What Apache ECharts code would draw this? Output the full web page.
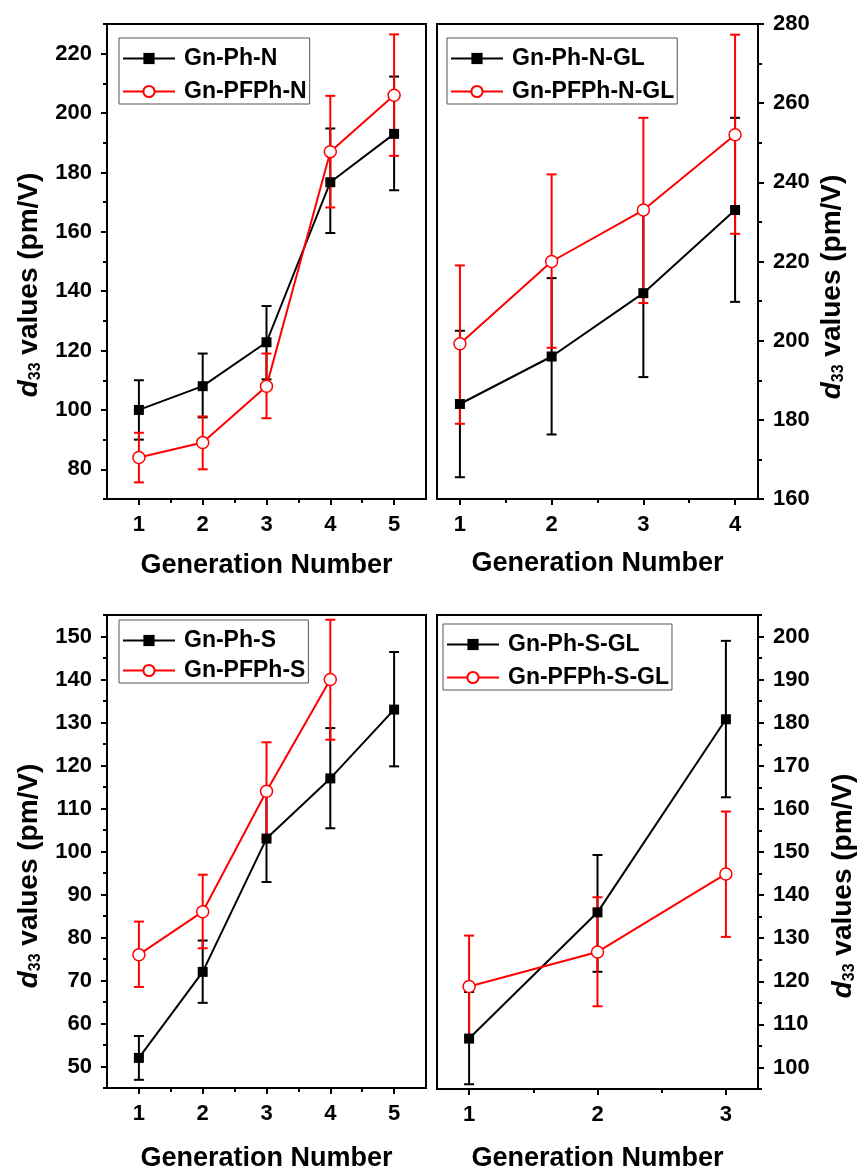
<!DOCTYPE html>
<html>
<head>
<meta charset="utf-8">
<script src="https://cdn.jsdelivr.net/npm/echarts@6.0.0/dist/echarts.min.js"></script>
<style>
  html, body { margin: 0; padding: 0; background: #fff; }
  #main { width: 860px; height: 1173px; }
</style>
</head>
<body>
<div id="main"></div>
<script>
// panel 1: Gn-Ph-N / Gn-PFPh-N
var gen5 = [1, 2, 3, 4, 5];
var phN = [100, 108, 122.8, 176.7, 193];
var phNLo = [90, 97.5, 110.3, 159.6, 174];
var phNHi = [110, 119, 135, 194.8, 212.3];
var pfphN = [84, 89, 108, 187, 206];
var pfphNLo = [75.6, 80, 97.2, 168.2, 185.6];
var pfphNHi = [92.3, 97.8, 119, 205.8, 226.5];

// panel 2: Gn-Ph-N-GL / Gn-PFPh-N-GL
var gen4 = [1, 2, 3, 4];
var phNGL = [184, 196, 212, 233];
var phNGLLo = [165.5, 176.3, 190.8, 209.8];
var phNGLHi = [202.5, 215.8, 233, 256.3];
var pfphNGL = [199.2, 220, 233, 252];
var pfphNGLLo = [179, 198.2, 209.5, 227];
var pfphNGLHi = [219, 242, 256.3, 277.3];

// panel 3: Gn-Ph-S / Gn-PFPh-S
var phS = [52, 72, 103, 117, 133];
var phSLo = [46.9, 64.8, 92.9, 105.4, 119.8];
var phSHi = [57.1, 79.3, 113.5, 128.7, 146.4];
var pfphS = [76, 86, 114, 140];
var pfphSLo = [68.5, 77.5, 103, 126];
var pfphSHi = [83.7, 94.6, 125.4, 153.9];

// panel 4: Gn-Ph-S-GL / Gn-PFPh-S-GL
var gen3 = [1, 2, 3];
var phSGL = [106.7, 136, 180.8];
var phSGLLo = [96.1, 122.2, 162.7];
var phSGLHi = [117.5, 149.3, 199];
var pfphSGL = [118.8, 126.8, 144.9];
var pfphSGLLo = [107, 114.2, 130.3];
var pfphSGLHi = [130.6, 139.5, 159.4];

// tick labels
var xTicks5 = [1, 2, 3, 4, 5];
var xMinor5 = [1.5, 2.5, 3.5, 4.5];
var xTicks4 = [1, 2, 3, 4];
var xMinor4 = [1.5, 2.5, 3.5];
var xTicks3 = [1, 2, 3];
var xMinor3 = [1.5, 2.5];
var yTicks1 = [80, 100, 120, 140, 160, 180, 200, 220];
var yMinor1 = [70, 90, 110, 130, 150, 170, 190, 210, 230];
var yTicks2 = [160, 180, 200, 220, 240, 260, 280];
var yMinor2 = [170, 190, 210, 230, 250, 270];
var yTicks3 = [50, 60, 70, 80, 90, 100, 110, 120, 130, 140, 150];
var yMinor3 = [45, 55, 65, 75, 85, 95, 105, 115, 125, 135, 145, 155];
var yTicks4 = [100, 110, 120, 130, 140, 150, 160, 170, 180, 190, 200];
var yMinor4 = [95, 105, 115, 125, 135, 145, 155, 165, 175, 185, 195, 205];

var FONT = 'Liberation Sans, Arial, sans-serif';
var RED = '#f00';

function zip(xs, ys) {
    return xs.map(function (x, i) { return [x, ys[i]]; });
}

function xAxes(grid, min, max, ticks, minor, gap) {
    return [{
        type: 'value', gridIndex: grid, min: min, max: max, position: 'bottom',
        axisLine: {show: true, onZero: false, lineStyle: {color: '#000', width: 2}},
        axisTick: {show: true, length: 6, customValues: ticks, lineStyle: {color: '#000', width: 2}},
        axisLabel: {customValues: ticks, margin: 15, color: '#000', fontSize: 22, fontWeight: 'bold', fontFamily: FONT},
        splitLine: {show: false},
        name: 'Generation Number', nameLocation: 'middle', nameGap: gap,
        nameTextStyle: {color: '#000', fontSize: 27, fontWeight: 'bold', fontFamily: FONT}
    }, {
        type: 'value', gridIndex: grid, min: min, max: max, position: 'bottom', offset: 0,
        axisLine: {show: false, onZero: false},
        axisTick: {show: true, length: 4, customValues: minor, lineStyle: {color: '#000', width: 2}},
        axisLabel: {show: false},
        splitLine: {show: false}
    }];
}

function yAxes(grid, min, max, ticks, minor, pos) {
    return [{
        type: 'value', gridIndex: grid, min: min, max: max, position: pos,
        axisLine: {show: true, onZero: false, lineStyle: {color: '#000', width: 2}},
        axisTick: {show: true, length: 6, customValues: ticks, lineStyle: {color: '#000', width: 2}},
        axisLabel: {customValues: ticks, margin: 15, color: '#000', fontSize: 22, fontWeight: 'bold', fontFamily: FONT},
        splitLine: {show: false}
    }, {
        type: 'value', gridIndex: grid, min: min, max: max, position: pos, offset: 0,
        axisLine: {show: false, onZero: false},
        axisTick: {show: true, length: 4, customValues: minor, lineStyle: {color: '#000', width: 2}},
        axisLabel: {show: false},
        splitLine: {show: false}
    }];
}

function lineSeries(name, xs, ys, color, hollow, k) {
    return {
        name: name, type: 'line', xAxisIndex: 2 * k, yAxisIndex: 2 * k,
        data: zip(xs, ys),
        symbol: hollow ? 'circle' : 'rect',
        symbolSize: hollow ? 12 : 10,
        lineStyle: {color: color, width: 2},
        itemStyle: hollow ? {color: '#fff', borderColor: color, borderWidth: 1.5} : {color: color},
        z: 3
    };
}

function errSeries(xs, lo, hi, color, k) {
    return {
        type: 'custom', xAxisIndex: 2 * k, yAxisIndex: 2 * k,
        data: xs.map(function (x, i) { return [x, lo[i], hi[i]]; }),
        encode: {x: 0, y: [1, 2]},
        renderItem: function (params, api) {
            var a = api.coord([api.value(0), api.value(1)]);
            var b = api.coord([api.value(0), api.value(2)]);
            var st = {stroke: color, lineWidth: 2};
            return {
                type: 'group',
                children: [
                    {type: 'line', shape: {x1: a[0], y1: a[1], x2: b[0], y2: b[1]}, style: st},
                    {type: 'line', shape: {x1: a[0] - 5, y1: a[1], x2: a[0] + 5, y2: a[1]}, style: st},
                    {type: 'line', shape: {x1: b[0] - 5, y1: b[1], x2: b[0] + 5, y2: b[1]}, style: st}
                ]
            };
        },
        z: 2
    };
}

function legendAt(names, left, top, gap) {
    return {
        data: names, orient: 'vertical', left: left, top: top,
        itemWidth: 52, itemHeight: 14, itemGap: gap,
        padding: [9, 3, 1, 3],
        borderColor: '#555', borderWidth: 1,
        textStyle: {color: '#000', fontSize: 23, fontWeight: 'bold', fontFamily: FONT, padding: [0, 0, 0, 4]}
    };
}

function yTitle(x, y) {
    return {
        type: 'text', x: x, y: y, rotation: Math.PI / 2,
        style: {
            text: '{d|d}{s|33} values (pm/V)',
            align: 'center', verticalAlign: 'middle',
            fill: '#000',
            font: 'bold 28px ' + FONT,
            rich: {
                d: {fontStyle: 'italic', fontWeight: 'bold', fontSize: 28, fontFamily: FONT, fill: '#000'},
                s: {fontWeight: 'bold', fontSize: 16, fontFamily: FONT, fill: '#000', padding: [13, 0, 0, 0]}
            }
        }
    };
}

var gridStyle = {show: true, borderColor: '#000', borderWidth: 2, backgroundColor: 'transparent'};

var option = {
    animation: false,
    backgroundColor: '#fff',
    grid: [
        Object.assign({left: 107, top: 24, width: 319, height: 475}, gridStyle),
        Object.assign({left: 437, top: 24, width: 321, height: 475}, gridStyle),
        Object.assign({left: 107, top: 615, width: 319, height: 476}, gridStyle),
        Object.assign({left: 437, top: 615, width: 321, height: 476}, gridStyle)
    ],
    xAxis: [].concat(
        xAxes(0, 0.5, 5.5, xTicks5, xMinor5, 53),
        xAxes(1, 0.75, 4.25, xTicks4, xMinor4, 51),
        xAxes(2, 0.5, 5.5, xTicks5, xMinor5, 57),
        xAxes(3, 0.75, 3.25, xTicks3, xMinor3, 56)
    ),
    yAxis: [].concat(
        yAxes(0, 70, 230, yTicks1, yMinor1, 'left'),
        yAxes(1, 160, 280, yTicks2, yMinor2, 'right'),
        yAxes(2, 45, 155, yTicks3, yMinor3, 'left'),
        yAxes(3, 95, 205, yTicks4, yMinor4, 'right')
    ),
    legend: [
        legendAt(['Gn-Ph-N', 'Gn-PFPh-N'], 119, 38, 10),
        legendAt(['Gn-Ph-N-GL', 'Gn-PFPh-N-GL'], 447, 38, 10),
        legendAt(['Gn-Ph-S', 'Gn-PFPh-S'], 119, 620, 7),
        legendAt(['Gn-Ph-S-GL', 'Gn-PFPh-S-GL'], 443, 624, 10)
    ],
    graphic: [yTitle(29, 285), yTitle(832, 287), yTitle(29, 876), yTitle(843, 886)],
    series: [
        errSeries(gen5, phNLo, phNHi, '#000', 0),
        errSeries(gen5, pfphNLo, pfphNHi, RED, 0),
        lineSeries('Gn-Ph-N', gen5, phN, '#000', false, 0),
        lineSeries('Gn-PFPh-N', gen5, pfphN, RED, true, 0),

        errSeries(gen4, phNGLLo, phNGLHi, '#000', 1),
        errSeries(gen4, pfphNGLLo, pfphNGLHi, RED, 1),
        lineSeries('Gn-Ph-N-GL', gen4, phNGL, '#000', false, 1),
        lineSeries('Gn-PFPh-N-GL', gen4, pfphNGL, RED, true, 1),

        errSeries(gen5, phSLo, phSHi, '#000', 2),
        errSeries(gen4, pfphSLo, pfphSHi, RED, 2),
        lineSeries('Gn-Ph-S', gen5, phS, '#000', false, 2),
        lineSeries('Gn-PFPh-S', gen4, pfphS, RED, true, 2),

        errSeries(gen3, phSGLLo, phSGLHi, '#000', 3),
        errSeries(gen3, pfphSGLLo, pfphSGLHi, RED, 3),
        lineSeries('Gn-Ph-S-GL', gen3, phSGL, '#000', false, 3),
        lineSeries('Gn-PFPh-S-GL', gen3, pfphSGL, RED, true, 3)
    ]
};

var myChart = echarts.init(document.getElementById('main'));
myChart.setOption(option);
</script>
</body>
</html>
